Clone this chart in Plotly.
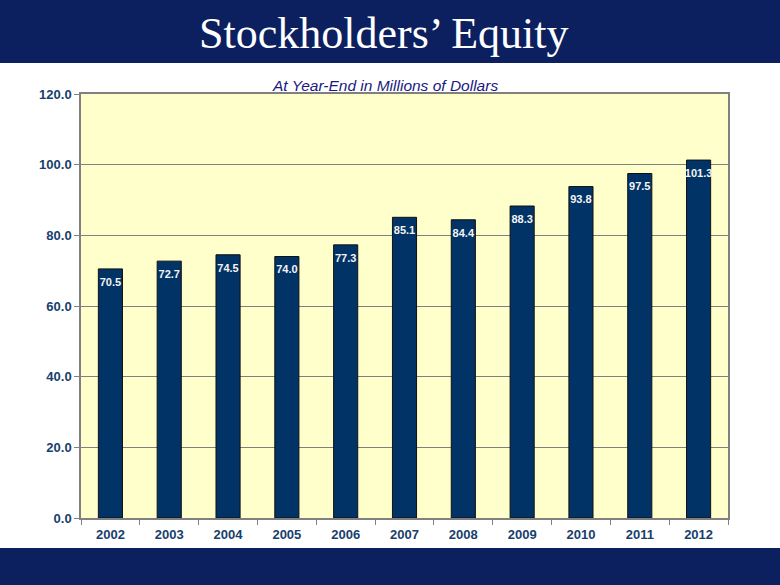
import plotly.graph_objects as go

years = ["2002", "2003", "2004", "2005", "2006", "2007", "2008", "2009", "2010", "2011", "2012"]
equity = [70.5, 72.7, 74.5, 74.0, 77.3, 85.1, 84.4, 88.3, 93.8, 97.5, 101.3]
labels = [f"<b>{v:.1f}</b>" for v in equity]

W, H = 780, 585
L, R, T, B = 81, 52, 94, 67
pw, ph = W - L - R, H - T - B

def px_x(X):
    return (X - L) / pw

def px_y(Y):
    return (H - B - Y) / ph

navy = "#0C1F5F"
tick_col = "#17406D"

fig = go.Figure()
fig.add_trace(go.Bar(
    x=years, y=equity,
    marker=dict(color="#013366", line=dict(color="#111111", width=1)),
    hoverinfo="skip",
))
fig.add_trace(go.Scatter(
    x=years, y=equity, text=labels, mode="markers+text",
    marker=dict(size=12, opacity=0),
    textposition="bottom center",
    textfont=dict(family="Arial", size=11, color="#F4F4F4"),
    cliponaxis=False, hoverinfo="skip",
))

fig.update_layout(
    width=W, height=H,
    margin=dict(l=L, r=R, t=T, b=B),
    paper_bgcolor="white", plot_bgcolor="#FFFFCC",
    bargap=0.59, showlegend=False,
    shapes=[
        dict(type="rect", xref="paper", yref="paper", x0=px_x(-5), x1=px_x(W + 5),
             y0=px_y(63), y1=px_y(-5), fillcolor=navy, line=dict(width=0), layer="above"),
        dict(type="rect", xref="paper", yref="paper", x0=px_x(-5), x1=px_x(W + 5),
             y0=px_y(H + 5), y1=px_y(548), fillcolor=navy, line=dict(width=0), layer="above"),
    ],
    annotations=[
        dict(text="Stockholders’ Equity", xref="paper", yref="paper",
             x=px_x(W / 2 - 7), y=px_y(33), xanchor="center", yanchor="middle", showarrow=False,
             font=dict(family="Liberation Serif", size=44, color="white")),
        dict(text="<i>At Year-End in Millions of Dollars</i>", xref="paper", yref="paper",
             x=px_x(385), y=px_y(85), xanchor="center", yanchor="middle", showarrow=False,
             font=dict(family="Arial", size=15.5, color="#1A1A80")),
    ],
)

fig.update_xaxes(
    type="category", range=[-0.5, len(years) - 0.5],
    tickson="boundaries", ticks="outside", ticklen=5, tickcolor="#808080",
    showline=True, linecolor="#808080", linewidth=1.5, mirror=True,
    ticklabelstandoff=4,
    tickfont=dict(family="Arial", size=13, color=tick_col),
    tickprefix="<b>", ticksuffix="</b>",
)
fig.update_yaxes(
    range=[0, 120], dtick=20, tickformat=".1f", ticks="outside", ticklen=5, tickcolor="#808080",
    showline=True, linecolor="#808080", linewidth=1.5, mirror=True,
    showgrid=True, gridcolor="#808080", gridwidth=1, zeroline=False,
    tickfont=dict(family="Arial", size=13, color=tick_col),
    tickprefix="<b>", ticksuffix="</b>",
)

fig.write_html("out.html", config={"displayModeBar": False},
               post_script="document.body.style.margin='0';document.body.style.overflow='hidden';")
